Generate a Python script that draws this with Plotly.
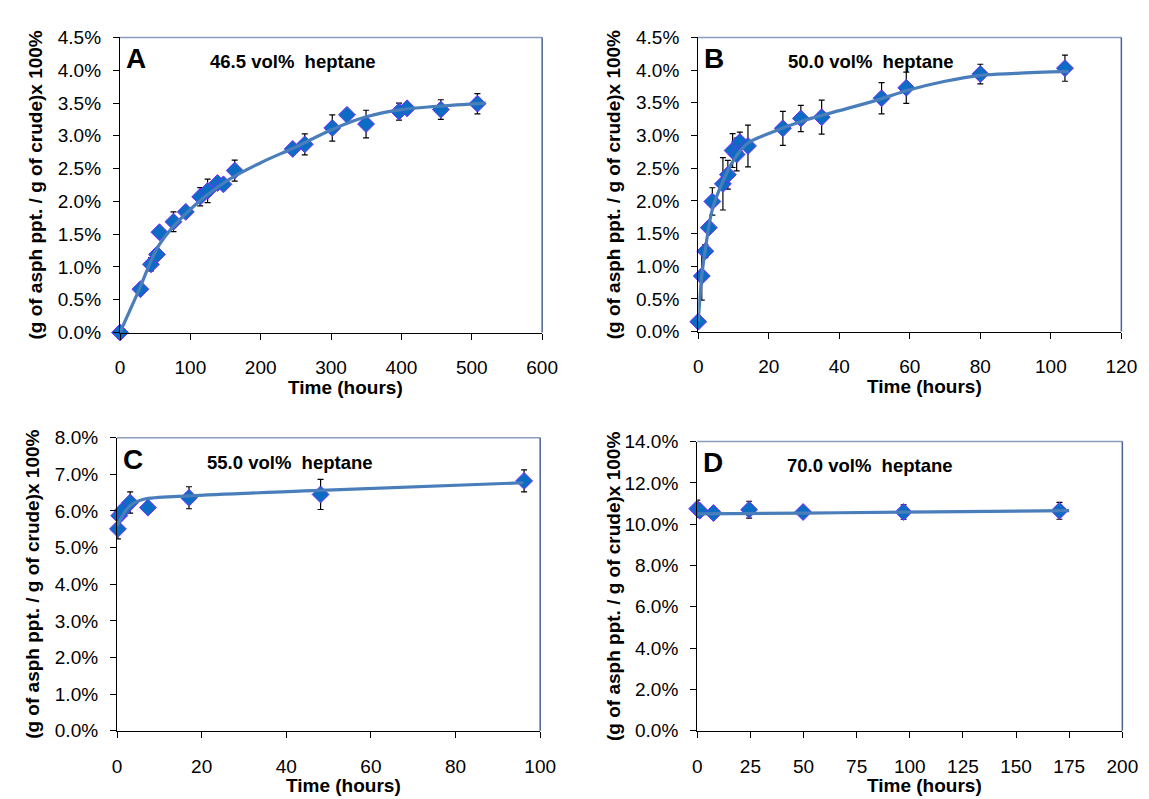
import plotly.graph_objects as go

# ---------------- data ----------------
# Panel A: 46.5 vol% heptane
a_t = [0, 29, 44, 52.5, 56, 76, 93.5, 114, 124.5, 138.5, 147, 163, 245.5, 262.6, 301.7, 322.6, 349.7, 396.6, 408, 456, 508]
a_y = [0.0, 0.66, 1.04, 1.19, 1.53, 1.69, 1.84, 2.07, 2.16, 2.28, 2.26, 2.47, 2.80, 2.87, 3.12, 3.32, 3.18, 3.37, 3.42, 3.40, 3.49]
a_err = [0.0, 0.06, 0.10, 0.05, 0.04, 0.15, 0.05, 0.14, 0.18, 0.05, 0.05, 0.16, 0.05, 0.16, 0.20, 0.05, 0.21, 0.13, 0.05, 0.15, 0.155]
a_fit_t = [0, 25, 57, 100, 150, 200, 250, 300, 350, 400, 450, 520]
a_fit_y = [0.0, 0.60, 1.36, 1.88, 2.30, 2.59, 2.83, 3.09, 3.29, 3.40, 3.45, 3.50]

# Panel B: 50.0 vol% heptane
b_t = [0, 1, 2, 3, 4, 7, 8.4, 9.75, 10.9, 11.8, 14.1, 24, 29.1, 35, 52, 59, 80, 104]
b_y = [0.15, 0.85, 1.23, 1.59, 1.99, 2.26, 2.40, 2.77, 2.71, 2.90, 2.84, 3.11, 3.26, 3.28, 3.57, 3.73, 3.94, 4.03]
b_err = [0.0, 0.37, 0.10, 0.05, 0.21, 0.40, 0.22, 0.26, 0.25, 0.15, 0.32, 0.26, 0.20, 0.26, 0.24, 0.24, 0.15, 0.20]
b_fit_t = [0, 1, 2, 4, 7, 10, 14, 20, 30, 40, 50, 60, 70, 80, 90, 105]
b_fit_y = [0.15, 0.85, 1.25, 1.87, 2.30, 2.62, 2.88, 3.03, 3.23, 3.38, 3.53, 3.70, 3.83, 3.92, 3.95, 3.98]

# Panel C: 55.0 vol% heptane
c_t = [0.2, 0.5, 1.2, 3.1, 7.3, 17, 48.1, 96.2]
c_y = [5.51, 5.87, 6.00, 6.23, 6.09, 6.36, 6.45, 6.82]
c_err = [0.27, 0.10, 0.10, 0.29, 0.05, 0.30, 0.41, 0.30]
c_fit_t = [0, 2.2, 3.7, 6.3, 17, 48, 96]
c_fit_y = [5.59, 6.03, 6.20, 6.32, 6.41, 6.56, 6.77]

# Panel D: 70.0 vol% heptane
d_t = [0, 1.2, 7.6, 24.4, 49.8, 97.1, 170.4]
d_y = [10.75, 10.65, 10.54, 10.70, 10.59, 10.59, 10.65]
d_err = [0.42, 0.10, 0.10, 0.41, 0.10, 0.35, 0.41]
d_fit_t = [0, 50, 97, 175]
d_fit_y = [10.50, 10.54, 10.58, 10.66]

panel_letters = ["A", "B", "C", "D"]
panel_labels = ["46.5 vol%  heptane", "50.0 vol%  heptane", "55.0 vol%  heptane", "70.0 vol%  heptane"]
x_ranges = [[0, 600], [0, 120], [0, 100], [0, 200]]
x_dticks = [100, 20, 20, 25]
y_ranges = [[0, 4.5], [0, 4.5], [0, 8.0], [0, 14.0]]
y_dticks = [0.5, 0.5, 1.0, 2.0]
y_title = "(g of asph ppt. / g of crude)x 100%"
x_title = "Time (hours)"

# ---------------- layout geometry ----------------
W, H = 1149, 799
# plot areas in pixels: (x0, x1, ytop, ybottom)
boxes = [(109, 539, 20, 323), (698, 1129, 20, 322), (106, 537, 431, 732), (697, 1130, 435, 732)]

MARK_FILL = "#0a6cc2"
MARK_LINE = "#7a2cff"
FIT_COLOR = "#4a7ebb"
FONT = "Liberation Sans, Arial, sans-serif"

series = [
    (a_t, a_y, a_err, a_fit_t, a_fit_y),
    (b_t, b_y, b_err, b_fit_t, b_fit_y),
    (c_t, c_y, c_err, c_fit_t, c_fit_y),
    (d_t, d_y, d_err, d_fit_t, d_fit_y),
]

fig = go.Figure()
annotations = []
shapes = []

for i, (t, y, e, ft, fy) in enumerate(series):
    n = "" if i == 0 else str(i + 1)
    xa, ya = "x" + n, "y" + n
    fig.add_trace(go.Scatter(
        x=t, y=y, xaxis=xa, yaxis=ya, mode="markers", cliponaxis=False,
        marker=dict(symbol="diamond", size=13, color=MARK_FILL,
                    line=dict(color=MARK_LINE, width=1)),
        error_y=dict(type="data", array=e, visible=True, color="black",
                     thickness=1.2, width=3),
        showlegend=False, hoverinfo="x+y"))
    fig.add_trace(go.Scatter(
        x=ft, y=fy, xaxis=xa, yaxis=ya, mode="lines", cliponaxis=False,
        line=dict(color=FIT_COLOR, width=3.2, shape="spline", smoothing=1.0),
        showlegend=False, hoverinfo="skip"))

    x0, x1, yt, yb = boxes[i]
    dom_x = [x0 / W, x1 / W]
    dom_y = [1 - yb / H, 1 - yt / H]
    fig.layout["xaxis" + n] = dict(
        domain=dom_x, anchor=ya, range=x_ranges[i], dtick=x_dticks[i], tick0=0,
        showgrid=False, zeroline=False, showline=True, linecolor="black", linewidth=1.3,
        ticks="outside", ticklen=6, tickcolor="black", tickwidth=1,
        ticklabelstandoff=12,
        tickfont=dict(family=FONT, size=19, color="black"), fixedrange=True)
    fig.layout["yaxis" + n] = dict(
        domain=dom_y, anchor=xa, range=y_ranges[i], dtick=y_dticks[i], tick0=0,
        tickformat=".1f", ticksuffix="%",
        showgrid=False, zeroline=False, showline=True, linecolor="black", linewidth=1.3,
        ticks="outside", ticklen=6, tickcolor="black", tickwidth=1,
        ticklabelstandoff=8,
        tickfont=dict(family=FONT, size=19, color="black"), fixedrange=True)

    # frame: top and right borders
    shapes.append(dict(type="line", xref=xa + " domain", yref=ya + " domain",
                       x0=0, x1=1, y0=1, y1=1, line=dict(color="#8a9cc0", width=1.5)))
    shapes.append(dict(type="line", xref=xa + " domain", yref=ya + " domain",
                       x0=1, x1=1, y0=0, y1=1, line=dict(color="#4a6492", width=1.5)))

    # panel letter and label
    annotations.append(dict(xref="paper", yref="paper", x=(x0 + 4) / W, y=1 - (yt + 22) / H,
                            text="<b>%s</b>" % panel_letters[i], showarrow=False,
                            xanchor="left", yanchor="middle",
                            font=dict(family=FONT, size=28, color="black")))
    annotations.append(dict(xref="paper", yref="paper", x=(x0 + 176) / W, y=1 - (yt + 25) / H,
                            text="<b>%s</b>" % panel_labels[i], showarrow=False,
                            xanchor="center", yanchor="middle",
                            font=dict(family=FONT, size=18.5, color="black")))
    # axis titles
    annotations.append(dict(xref="paper", yref="paper", x=(x0 - 86) / W, y=1 - ((yt + yb) / 2) / H,
                            text="<b>%s</b>" % y_title, showarrow=False, textangle=-90,
                            xanchor="center", yanchor="middle",
                            font=dict(family=FONT, size=19, color="black")))
    annotations.append(dict(xref="paper", yref="paper", x=((x0 + x1) / 2 + 15) / W, y=1 - (yb + 56) / H,
                            text="<b>%s</b>" % x_title, showarrow=False,
                            xanchor="center", yanchor="middle",
                            font=dict(family=FONT, size=19, color="black")))

fig.update_layout(
    width=W, height=H, margin=dict(l=0, r=0, t=0, b=0),
    paper_bgcolor="white", plot_bgcolor="white",
    annotations=annotations, shapes=shapes,
    font=dict(family=FONT, color="black"))

fig.write_html("out.html")
